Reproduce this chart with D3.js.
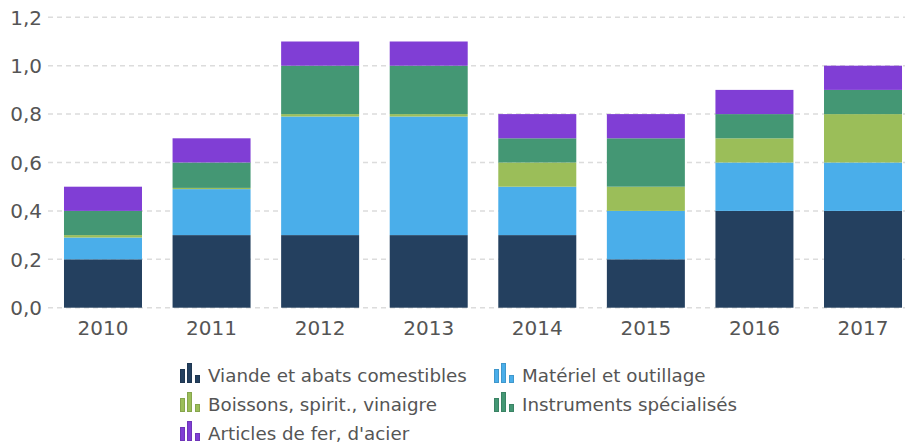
<!DOCTYPE html>
<html><head><meta charset="utf-8">
<script src="https://cdn.jsdelivr.net/npm/d3@7"></script>
<style>
html,body{margin:0;padding:0;background:#fff;}
svg{display:block;font-family:"DejaVu Sans",Verdana,sans-serif;}
</style></head>
<body><svg id="c" width="905" height="446"></svg>
<script>
const years = ["2010","2011","2012","2013","2014","2015","2016","2017"];
const seriesNames = ["Viande et abats comestibles","Matériel et outillage","Boissons, spirit., vinaigre","Instruments spécialisés","Articles de fer, d'acier"];
const colors = ["#24405f","#4aaeea","#9bbe59","#449774","#803ed5"];
const viande      = [0.2, 0.3, 0.3, 0.3, 0.3, 0.2, 0.4, 0.4];
const materiel    = [0.09, 0.19, 0.49, 0.49, 0.2, 0.2, 0.2, 0.2];
const boissons    = [0.01, 0.005, 0.01, 0.01, 0.1, 0.1, 0.1, 0.2];
const instruments = [0.1, 0.105, 0.2, 0.2, 0.1, 0.2, 0.1, 0.1];
const articles    = [0.1, 0.1, 0.1, 0.1, 0.1, 0.1, 0.1, 0.1];
const yTicks = [0, 0.2, 0.4, 0.6, 0.8, 1.0, 1.2];

const seriesValues = [viande, materiel, boissons, instruments, articles];
const keys = seriesNames;
const table = years.map((y,i)=>{ const o={year:y}; keys.forEach((k,j)=>o[k]=seriesValues[j][i]); return o; });
const stacked = d3.stack().keys(keys)(table);

const svg = d3.select("#c");
const x = d3.scaleBand().domain(years).range([48.7, 917.3]).paddingInner(0.2816).paddingOuter(0.1408);
const y = d3.scaleLinear().domain([0,1.2]).range([307.7, 17.3]);
const fmt = v => d3.format(".1f")(v).replace(".", ",");

// grid
svg.append("g").selectAll("line").data(yTicks).join("line")
  .attr("x1",48).attr("x2",905)
  .attr("y1",d=>y(d)).attr("y2",d=>y(d))
  .attr("stroke","#dcdcdc").attr("stroke-width",1.5).attr("stroke-dasharray","5,4");

// y labels
svg.append("g").selectAll("text").data(yTicks).join("text")
  .attr("x",42).attr("y",d=>y(d)).attr("dy","0.36em")
  .attr("text-anchor","end").attr("font-size",20).attr("fill","#555")
  .text(fmt);

// bars
svg.append("g").selectAll("g").data(stacked).join("g")
  .attr("fill",(d,i)=>colors[i])
  .selectAll("rect").data(d=>d).join("rect")
  .attr("x",d=>x(d.data.year)).attr("width",x.bandwidth())
  .attr("y",d=>y(d[1])).attr("height",d=>y(d[0])-y(d[1]));

// x labels
svg.append("g").selectAll("text").data(years).join("text")
  .attr("x",d=>x(d)+x.bandwidth()/2).attr("y",335)
  .attr("text-anchor","middle").attr("font-size",20).attr("fill","#555")
  .text(d=>d);

// legend
const legPos = [[180,383],[494,383],[180,412],[494,412],[180,441]];
const leg = svg.append("g").selectAll("g").data(seriesNames).join("g")
  .attr("transform",(d,i)=>`translate(${legPos[i][0]},${legPos[i][1]})`);
leg.each(function(d,i){
  const g = d3.select(this);
  const c = colors[i];
  const st = d3.color(c).darker(0.4).formatHex();
  [[0,14],[7,20],[15,8]].forEach(([bx,bh])=>{
    g.append("rect").attr("x",bx+0.5).attr("y",-bh+0.5).attr("width",4).attr("height",bh-1)
      .attr("fill",c).attr("stroke",st).attr("stroke-width",1);
  });
  g.append("text").attr("x",28).attr("y",-1).attr("font-size",18.3).attr("fill","#555").text(d);
});
</script></body></html>
